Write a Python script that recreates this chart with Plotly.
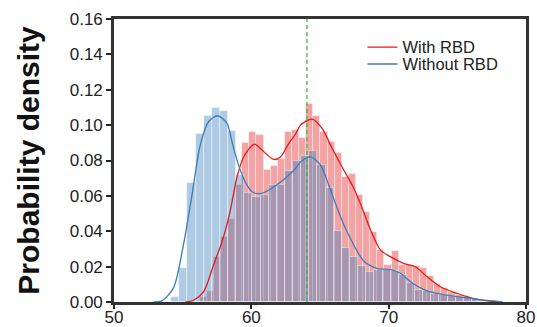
import plotly.graph_objects as go

# ---- data ----
red_bin_start = 56.226
red_bin_width = 0.518
red_density = [0.003, 0.006, 0.0253, 0.037, 0.047, 0.066, 0.090, 0.096, 0.0943, 0.0745,
               0.0768, 0.0806, 0.0959, 0.0972, 0.0925, 0.1117, 0.105, 0.0959, 0.0906, 0.084,
               0.0707, 0.0721, 0.0604, 0.051, 0.0396, 0.0293, 0.021, 0.0287, 0.0208, 0.0208,
               0.0205, 0.019, 0.0145, 0.0104, 0.0078, 0.0057, 0.0042, 0.0035, 0.0015]

blue_bin_start = 54.16
blue_bin_width = 0.592
blue_density = [0.003, 0.019, 0.067, 0.095, 0.105, 0.1095, 0.108, 0.0966, 0.072, 0.0619,
                0.0591, 0.0604, 0.0664, 0.066, 0.074, 0.0795, 0.0825, 0.0855, 0.0774, 0.0642,
                0.040, 0.0306, 0.0255, 0.0204, 0.017, 0.018, 0.0185, 0.0176, 0.0151, 0.0108,
                0.007, 0.006, 0.0045, 0.0037, 0.0034, 0.003, 0.003, 0.0015]

red_kde_x = [55.2, 55.79, 56.52, 57.25, 57.86, 58.42, 58.96, 59.44, 60.22, 60.78, 61.63, 62.12,
             62.72, 63.21, 63.58, 64.43, 65.16, 65.89, 66.74, 67.47, 68.08, 68.69, 69.42,
             70.15, 71.12, 71.97, 72.82, 73.8, 75.01, 76.23, 77.2, 78.0]
red_kde_y = [0.0, 0.001, 0.0057, 0.021, 0.034, 0.050, 0.0707, 0.082, 0.0892, 0.0859, 0.0806,
             0.082, 0.0896, 0.0947, 0.100, 0.1034, 0.098, 0.0868, 0.0745, 0.0642, 0.0529,
             0.0406, 0.0293, 0.0255, 0.0217, 0.0198, 0.0141, 0.0085, 0.0048, 0.0019, 0.0006, 0.0]

blue_kde_x = [52.9, 53.48, 54.33, 55.0, 55.67, 56.28, 56.88, 57.54, 58.23, 58.59, 59.07, 59.56,
              60.05, 60.66, 61.26, 61.99, 62.72, 63.21, 63.58, 64.31, 65.04, 65.64, 66.26,
              66.86, 67.47, 68.2, 69.18, 70.15, 70.88, 71.61, 72.58, 73.8, 75.26, 76.47, 77.69, 78.3]
blue_kde_y = [0.0, 0.0006, 0.008, 0.030, 0.060, 0.0887, 0.1019, 0.1053, 0.101, 0.0906, 0.0774,
              0.0679, 0.0623, 0.0613, 0.0632, 0.067, 0.0717, 0.0755, 0.0792, 0.082, 0.0774,
              0.066, 0.0529, 0.0415, 0.0321, 0.023, 0.0189, 0.0183, 0.0161, 0.0113, 0.007,
              0.0044, 0.0028, 0.0015, 0.0006, 0.0]

mean_line_x = [64.05]
x_ticks = [50, 60, 70, 80]
y_ticks = [0.00, 0.02, 0.04, 0.06, 0.08, 0.10, 0.12, 0.14, 0.16]

RED = "#e41a1c"
BLUE = "#377eb8"

red_centers = [red_bin_start + red_bin_width * (i + 0.5) for i in range(len(red_density))]
blue_centers = [blue_bin_start + blue_bin_width * (i + 0.5) for i in range(len(blue_density))]

fig = go.Figure()
fig.add_trace(go.Bar(x=red_centers, y=red_density, width=red_bin_width,
                     marker=dict(color="rgba(228,26,28,0.4)",
                                 line=dict(color="rgba(255,255,255,0.55)", width=0.8)),
                     showlegend=False, hoverinfo="skip"))
fig.add_trace(go.Bar(x=blue_centers, y=blue_density, width=blue_bin_width,
                     marker=dict(color="rgba(55,126,184,0.4)",
                                 line=dict(color="rgba(255,255,255,0.55)", width=0.8)),
                     showlegend=False, hoverinfo="skip"))
fig.add_trace(go.Scatter(x=red_kde_x, y=red_kde_y, mode="lines", name="With RBD",
                         line=dict(color=RED, width=1.3, shape="spline", smoothing=0.8),
                         legend="legend"))
fig.add_trace(go.Scatter(x=blue_kde_x, y=blue_kde_y, mode="lines", name="Without RBD",
                         line=dict(color=BLUE, width=1.3, shape="spline", smoothing=0.8),
                         legend="legend2"))

fig.add_trace(go.Scatter(x=[mean_line_x[0], mean_line_x[0]], y=[0, 0.16], mode="lines",
                         line=dict(color="#3cb83c", width=1.3, dash="4px,3px"),
                         showlegend=False, hoverinfo="skip"))

legend_style = dict(xanchor="left", yanchor="middle", bgcolor="rgba(0,0,0,0)",
                    font=dict(size=16.5, color="#222"), itemwidth=30, borderwidth=0)

fig.update_layout(
    width=537, height=327,
    margin=dict(l=114, r=11, t=19, b=25),
    plot_bgcolor="white", paper_bgcolor="white",
    barmode="overlay", bargap=0,
    font=dict(family="Liberation Sans, Arial", size=17, color="#222"),
    legend=dict(x=0.603, y=0.90, **legend_style),
    legend2=dict(x=0.603, y=0.84, **legend_style),
)
fig.update_xaxes(range=[50, 80], tickvals=x_ticks, ticks="outside", ticklen=4, tickwidth=1.5,
                 tickcolor="#222", showline=True, linewidth=2.6, linecolor="#333", mirror=True,
                 showgrid=False, zeroline=False, automargin=False, ticklabelstandoff=-6)
fig.update_yaxes(range=[0, 0.16], tickvals=y_ticks, tickformat=".2f", ticks="outside",
                 ticklen=5, tickwidth=1.5, tickcolor="#222",
                 showline=True, linewidth=2.6, linecolor="#333", mirror=True,
                 showgrid=False, zeroline=False, automargin=False,
                 title=dict(text="<b>Probability density</b>", font=dict(size=30, color="#111"),
                            standoff=22))

fig.write_html("out.html")
